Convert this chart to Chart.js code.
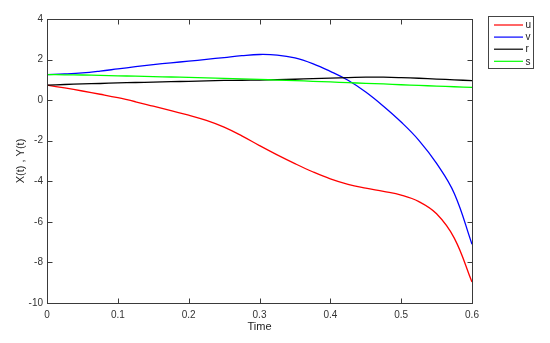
<!DOCTYPE html>
<html>
<head>
<meta charset="utf-8">
<script src="https://cdn.jsdelivr.net/npm/chart.js@4"></script>
<style>
html,body{margin:0;padding:0;background:#fff;}
canvas{display:block;}
</style>
</head>
<body>
<canvas id="c" width="550" height="343"></canvas>
<script>
const times = [0,0.025,0.05,0.075,0.1,0.125,0.15,0.175,0.2,0.225,0.25,0.275,0.3,0.325,0.35,0.375,0.4,0.425,0.45,0.475,0.5,0.525,0.55,0.575,0.6];
const uVals = [0.74,0.60,0.45,0.29,0.12,-0.08,-0.30,-0.52,-0.74,-1.00,-1.33,-1.76,-2.24,-2.70,-3.13,-3.53,-3.88,-4.15,-4.34,-4.50,-4.68,-5.00,-5.60,-6.80,-8.97];
const vVals = [1.26,1.29,1.34,1.43,1.54,1.65,1.75,1.84,1.92,2.01,2.10,2.19,2.25,2.22,2.08,1.80,1.42,0.98,0.40,-0.30,-1.08,-1.98,-3.12,-4.60,-7.10];
const rVals = [0.74,0.77,0.80,0.82,0.85,0.87,0.89,0.91,0.93,0.95,0.97,0.98,0.99,1.01,1.03,1.06,1.09,1.11,1.13,1.13,1.11,1.08,1.04,1.00,0.96];
const sVals = [1.26,1.25,1.24,1.22,1.20,1.18,1.16,1.14,1.12,1.10,1.07,1.05,1.02,0.99,0.96,0.93,0.90,0.86,0.83,0.80,0.76,0.73,0.69,0.66,0.63];
const seriesLabels = ['u','v','r','s'];
const seriesColors = ['#ff0000','#0000ff','#000000','#00ff00'];
const xTickStep = 0.1;
const yTickStep = 2;

const FONT = '"Liberation Sans", Arial, Helvetica, sans-serif';
const AXIS = '#3a3a3a';

function pts(vals){ return vals.map((v,i)=>({x:times[i], y:v})); }
const allVals = [uVals,vVals,rVals,sVals];

const boxPlugin = {
  id:'boxPlugin',
  afterDraw(chart){
    const ctx = chart.ctx, a = chart.chartArea;
    const xs = chart.scales.x, ys = chart.scales.y;
    ctx.save();
    ctx.strokeStyle = AXIS;
    ctx.lineWidth = 1;
    const L = Math.round(a.left)+0.5, R = Math.round(a.right)+0.5, T = Math.round(a.top)+0.5, B = Math.round(a.bottom)+0.5;
    ctx.strokeRect(L, T, R-L, B-T);
    const tl = 5;
    ctx.beginPath();
    xs.ticks.forEach(t=>{
      const px = Math.round(xs.getPixelForValue(t.value))+0.5;
      ctx.moveTo(px,B); ctx.lineTo(px,B-tl);
      ctx.moveTo(px,T); ctx.lineTo(px,T+tl);
    });
    ys.ticks.forEach(t=>{
      const py = Math.round(ys.getPixelForValue(t.value))+0.5;
      ctx.moveTo(L,py); ctx.lineTo(L+tl,py);
      ctx.moveTo(R,py); ctx.lineTo(R-tl,py);
    });
    ctx.stroke();
    // legend
    const lx = 488.5, ly = 16.5, lw = 45, lh = 52;
    ctx.fillStyle = '#fff';
    ctx.fillRect(lx,ly,lw,lh);
    ctx.strokeStyle = '#444';
    ctx.strokeRect(lx,ly,lw,lh);
    ctx.font = '10px ' + FONT;
    ctx.textBaseline = 'middle';
    ctx.textAlign = 'left';
    chart.data.datasets.forEach((ds,i)=>{
      const y = 25 + i*12.1;
      ctx.strokeStyle = ds.borderColor;
      ctx.lineWidth = 1.2;
      ctx.beginPath();
      ctx.moveTo(494, y); ctx.lineTo(523, y);
      ctx.stroke();
      ctx.fillStyle = '#222';
      ctx.fillText(ds.label, 525.5, y+0.5);
    });
    ctx.restore();
  }
};

new Chart(document.getElementById('c'), {
  type:'line',
  data:{
    datasets: seriesLabels.map((lab,i)=>({
      label: lab,
      data: pts(allVals[i]),
      borderColor: seriesColors[i],
      backgroundColor: seriesColors[i],
      borderWidth: 1.3,
      pointRadius: 0,
      fill: false,
      tension: 0.4,
      order: 4 - i
    }))
  },
  options:{
    responsive:false,
    animation:false,
    devicePixelRatio:1,
    layout:{padding:{top:19,right:78,left:0,bottom:0}},
    plugins:{legend:{display:false}, tooltip:{enabled:false}},
    scales:{
      x:{
        type:'linear', min:0, max:0.6,
        grid:{display:false, drawTicks:false},
        border:{display:false},
        ticks:{stepSize:xTickStep, color:'#333', padding:6, font:{family:FONT,size:10},
          callback:(v)=> (Math.round(v*10)/10).toString()},
        title:{display:true, text:'Time', color:'#222', font:{family:FONT,size:11}, padding:{top:0,bottom:9}},
        afterFit(s){ s.height = 40; }
      },
      y:{
        type:'linear', min:-10, max:4,
        grid:{display:false, drawTicks:false},
        border:{display:false},
        ticks:{stepSize:yTickStep, color:'#333', padding:4, font:{family:FONT,size:10}},
        title:{display:true, text:'X(t) , Y(t)', color:'#222', font:{family:FONT,size:11}, padding:{top:14,bottom:0}},
        afterFit(s){ s.width = 47; }
      }
    }
  },
  plugins:[boxPlugin]
});
</script>
</body>
</html>
